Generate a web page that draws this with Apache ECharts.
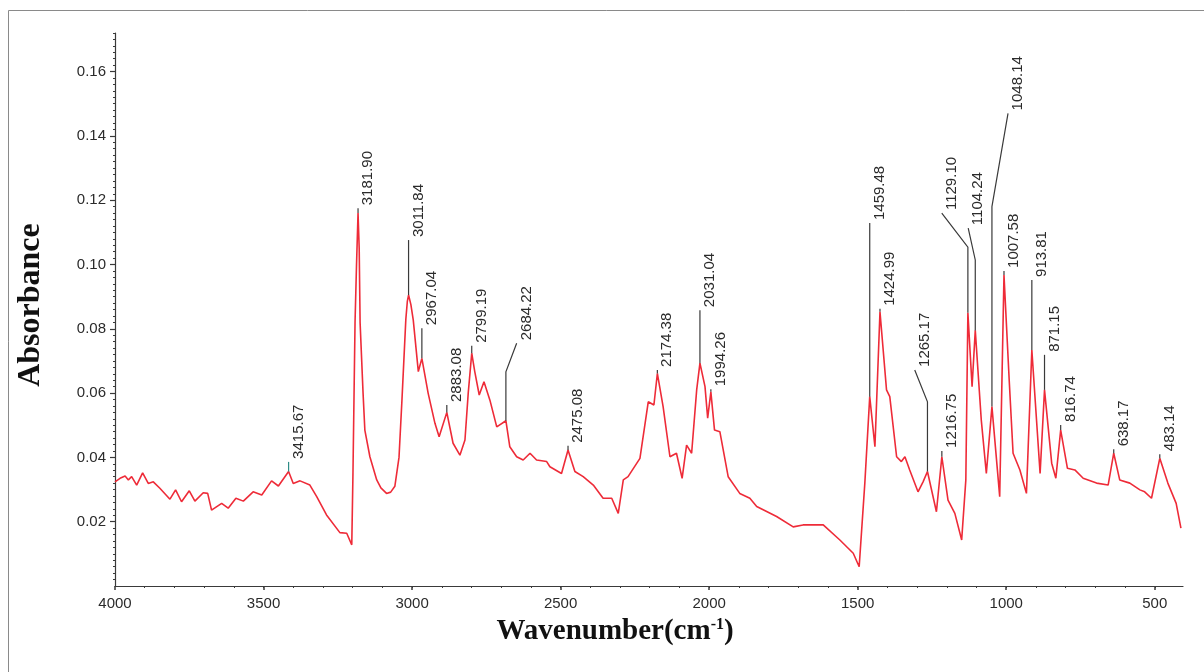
<!DOCTYPE html>
<html>
<head>
<meta charset="utf-8">
<title>FTIR spectrum</title>
<script src="https://cdn.jsdelivr.net/npm/echarts@6/dist/echarts.min.js"></script>
<style>
  html, body { margin: 0; padding: 0; background: #ffffff; }
  #chart { width: 1204px; height: 672px; }
</style>
</head>
<body>
<div id="chart"></div>
<script>
// Spectrum trace: wavenumber (cm-1) and absorbance
const wavenumbers = [
  4000, 3983, 3966, 3955, 3944, 3927, 3907, 3888, 3871, 3849,
  3815, 3796, 3776, 3750, 3731, 3703, 3688, 3675, 3641, 3619,
  3593, 3568, 3535, 3506, 3473, 3450, 3415.67, 3400, 3377, 3344,
  3321, 3288, 3243, 3220, 3203, 3199, 3192, 3187, 3181.90, 3178,
  3175, 3165, 3159, 3142, 3119, 3105, 3086, 3072, 3058, 3044,
  3034, 3021, 3016, 3011.84, 3004, 2996, 2979, 2967.04, 2946, 2923,
  2909, 2883.08, 2862, 2839, 2822, 2811, 2799.19, 2789, 2774, 2758,
  2738, 2715, 2684.22, 2671, 2648, 2626, 2603, 2581, 2547, 2536,
  2497, 2475.08, 2452, 2424, 2390, 2357, 2328, 2306, 2289, 2273,
  2233, 2205, 2186, 2174.38, 2155, 2132, 2110, 2091, 2076, 2059,
  2042, 2031.04, 2014, 2005, 1994.26, 1982, 1964, 1936, 1897, 1863,
  1840, 1773, 1717, 1684, 1616, 1560, 1515, 1495, 1476, 1459.48,
  1442, 1424.99, 1403, 1392, 1369, 1353, 1341, 1325, 1297, 1280,
  1265.17, 1235, 1216.75, 1196, 1173, 1150, 1136, 1129.10, 1115, 1104.24,
  1084, 1067, 1048.14, 1022, 1007.58, 990, 977, 954, 932, 913.81,
  886, 871.15, 847, 833, 816.74, 794, 769, 741, 696, 657,
  638.17, 618, 584, 550, 534, 511, 483.14, 456, 428, 412
];
const absorbance = [
  0.0324, 0.0335, 0.0342, 0.0330, 0.0340, 0.0314, 0.0352, 0.0319, 0.0324, 0.0304,
  0.0270, 0.0299, 0.0262, 0.0296, 0.0264, 0.0290, 0.0288, 0.0236, 0.0257, 0.0242,
  0.0273, 0.0264, 0.0293, 0.0283, 0.0327, 0.0311, 0.0356, 0.0319, 0.0327, 0.0314,
  0.0278, 0.0221, 0.0166, 0.0164, 0.0128, 0.0350, 0.0820, 0.1000, 0.1160, 0.1050,
  0.0820, 0.0600, 0.0485, 0.0402, 0.0330, 0.0305, 0.0288, 0.0292, 0.0310, 0.0400,
  0.0580, 0.0830, 0.0885, 0.0905, 0.0875, 0.0827, 0.0667, 0.0708, 0.0600, 0.0506,
  0.0464, 0.0540, 0.0444, 0.0407, 0.0454, 0.0600, 0.0724, 0.0667, 0.0594, 0.0635,
  0.0578, 0.0495, 0.0514, 0.0433, 0.0402, 0.0392, 0.0413, 0.0392, 0.0387, 0.0371,
  0.0350, 0.0423, 0.0356, 0.0340, 0.0314, 0.0273, 0.0273, 0.0226, 0.0330, 0.0340,
  0.0397, 0.0573, 0.0563, 0.0661, 0.0558, 0.0402, 0.0413, 0.0335, 0.0438, 0.0413,
  0.0610, 0.0693, 0.0620, 0.0522, 0.0604, 0.0485, 0.0480, 0.0340, 0.0288, 0.0273,
  0.0247, 0.0216, 0.0184, 0.0190, 0.0190, 0.0143, 0.0102, 0.0060, 0.0320, 0.0589,
  0.0433, 0.0853, 0.0610, 0.0589, 0.0402, 0.0387, 0.0402, 0.0361, 0.0293, 0.0324,
  0.0356, 0.0231, 0.0402, 0.0267, 0.0226, 0.0143, 0.0330, 0.0850, 0.0620, 0.0795,
  0.0516, 0.0350, 0.0558, 0.0278, 0.0967, 0.0640, 0.0413, 0.0361, 0.0288, 0.0734,
  0.0350, 0.0610, 0.0382, 0.0335, 0.0485, 0.0366, 0.0361, 0.0335, 0.0320, 0.0314,
  0.0413, 0.0330, 0.0320, 0.0299, 0.0293, 0.0273, 0.0397, 0.0320, 0.0257, 0.0180
];

// Annotated peak positions (cm-1)
const peakWavenumbers = [
  3415.67, 3181.90, 3011.84, 2967.04, 2883.08, 2799.19, 2684.22, 2475.08,
  2174.38, 2031.04, 1994.26, 1459.48, 1424.99, 1265.17, 1216.75, 1129.10,
  1104.24, 1048.14, 1007.58, 913.81, 871.15, 816.74, 638.17, 483.14
];

// Tick values
const xMajorTicks = [4000, 3500, 3000, 2500, 2000, 1500, 1000, 500];
const yMajorTicks = [0.02, 0.04, 0.06, 0.08, 0.10, 0.12, 0.14, 0.16];

// Leader layout for each peak label (absorbance where the vertical leg stops,
// and an optional bent end point in data units)
const leaderTop = [
  0.0386, 0.1175, 0.1076, 0.0802, 0.0563, 0.0747, 0.0666, 0.0436,
  0.0672, 0.0858, 0.0612, 0.1129, 0.0862, 0.0573, 0.0420, 0.1054,
  0.1014, 0.1180, 0.0980, 0.0952, 0.0719, 0.0501, 0.0425, 0.0410
];
const leaderBend = {
  2684.22: [2648, 0.0755],
  1265.17: [1308, 0.0672],
  1129.10: [1217, 0.1160],
  1104.24: [1128, 0.1113],
  1048.14: [994, 0.1470]
};

const X_MIN = 405, X_MAX = 4000, Y_MIN = 0, Y_MAX = 0.172;

const spectrum = wavenumbers.map((w, i) => [w, absorbance[i]]);
const labelData = peakWavenumbers.map((w, i) => {
  const peakAbs = absorbance[wavenumbers.indexOf(w)];
  const bend = leaderBend[w] || [w, leaderTop[i]];
  return [w, peakAbs, leaderTop[i], bend[0], bend[1]];
});

const xMinorTicks = [];
for (let v = 500; v < 4000; v += 100) xMinorTicks.push(v);
const yMinorTicks = [];
for (let k = 1; k <= 86; k++) yMinorTicks.push(+(k * 0.002).toFixed(3));

const axisColor = '#3a3a3a';
const tickFont = { fontFamily: 'Liberation Sans, Arial, sans-serif', fontSize: 15, color: '#2b2b2b' };

const chart = echarts.init(document.getElementById('chart'), null, { renderer: 'canvas' });

chart.setOption({
  backgroundColor: '#ffffff',
  animation: false,
  grid: { left: 115, right: 21, top: 33, bottom: 86, containLabel: false },
  xAxis: [
    {
      type: 'value', min: X_MIN, max: X_MAX, inverse: true, position: 'bottom',
      splitLine: { show: false },
      axisLine: { show: true, onZero: false, lineStyle: { color: axisColor, width: 1.2 } },
      axisTick: { show: true, customValues: xMajorTicks, length: 4, lineStyle: { color: axisColor, width: 1.5 } },
      axisLabel: Object.assign({ customValues: xMajorTicks, margin: 10, formatter: v => String(v) }, tickFont)
    },
    {
      type: 'value', min: X_MIN, max: X_MAX, inverse: true, position: 'bottom',
      splitLine: { show: false },
      axisLine: { show: false, onZero: false },
      axisTick: { show: true, customValues: xMinorTicks, length: 2, lineStyle: { color: axisColor, width: 1 } },
      axisLabel: { show: false }
    }
  ],
  yAxis: [
    {
      type: 'value', min: Y_MIN, max: Y_MAX, position: 'left',
      splitLine: { show: false },
      axisLine: { show: true, onZero: false, lineStyle: { color: axisColor, width: 1.2 } },
      axisTick: { show: true, customValues: yMajorTicks, length: 5, lineStyle: { color: axisColor, width: 1.2 } },
      axisLabel: Object.assign({ customValues: yMajorTicks, margin: 9, formatter: v => v.toFixed(2) }, tickFont)
    },
    {
      type: 'value', min: Y_MIN, max: Y_MAX, position: 'left', offset: 0,
      splitLine: { show: false },
      axisLine: { show: false, onZero: false },
      axisTick: { show: true, customValues: yMinorTicks, length: 2, lineStyle: { color: axisColor, width: 1 } },
      axisLabel: { show: false }
    }
  ],
  series: [
    {
      type: 'line',
      name: 'Absorbance',
      xAxisIndex: 0, yAxisIndex: 0,
      data: spectrum,
      showSymbol: false,
      symbol: 'none',
      smooth: false,
      lineStyle: { color: '#ee2b38', width: 1.6 },
      z: 3
    },
    {
      type: 'custom',
      name: 'peaks',
      xAxisIndex: 0, yAxisIndex: 0,
      clip: false,
      data: labelData,
      encode: { x: 0, y: 1 },
      z: 4,
      renderItem: function (params, api) {
        const w = api.value(0);
        const p0 = api.coord([w, api.value(1)]);
        const p1 = api.coord([w, api.value(2)]);
        const p2 = api.coord([api.value(3), api.value(4)]);
        const pts = [p0, p1];
        if (Math.abs(p2[0] - p1[0]) > 0.5 || Math.abs(p2[1] - p1[1]) > 0.5) pts.push(p2);
        const stroke = params.dataIndex === 0 ? '#2e8c86' : '#3a3a3a';
        return {
          type: 'group',
          children: [
            {
              type: 'polyline',
              shape: { points: pts },
              style: { stroke: stroke, lineWidth: 1.2, fill: null }
            },
            {
              type: 'text',
              x: p2[0] + 10,
              y: p2[1] - 3,
              rotation: Math.PI / 2,
              style: {
                text: w.toFixed(2),
                fill: '#2b2b2b',
                font: '15px "Liberation Sans", Arial, sans-serif',
                align: 'left',
                verticalAlign: 'middle'
              }
            }
          ]
        };
      }
    }
  ],
  graphic: [
    {
      type: 'rect',
      shape: { x: 8.5, y: 10.5, width: 1230, height: 700 },
      style: { fill: null, stroke: '#8a8a8a', lineWidth: 1 },
      silent: true
    },
    {
      type: 'text',
      x: 31, y: 305,
      rotation: Math.PI / 2,
      style: {
        text: 'Absorbance',
        fill: '#111111',
        font: 'bold 32px "Liberation Serif", "Times New Roman", serif',
        align: 'center',
        verticalAlign: 'middle'
      }
    },
    {
      type: 'text',
      x: 615, y: 632,
      style: {
        text: '{m|Wavenumber(cm}{s|-1}{m|)}',
        align: 'center',
        verticalAlign: 'middle',
        rich: {
          m: { fontFamily: '"Liberation Serif", "Times New Roman", serif', fontWeight: 'bold', fontSize: 29, fill: '#111111', lineHeight: 34 },
          s: { fontFamily: '"Liberation Serif", "Times New Roman", serif', fontWeight: 'bold', fontSize: 16, fill: '#111111', lineHeight: 34, padding: [0, 0, 14, 0] }
        }
      }
    }
  ]
});
</script>
</body>
</html>
